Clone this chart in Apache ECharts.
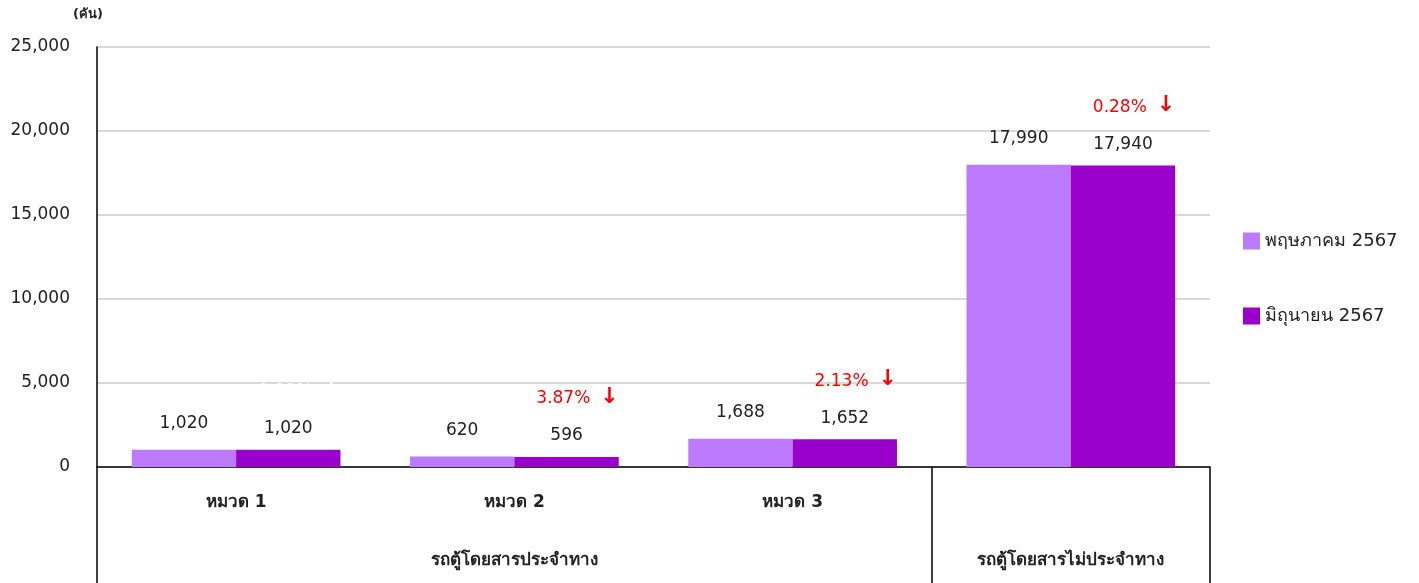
<!DOCTYPE html>
<html>
<head>
<meta charset="utf-8">
<title>รถตู้โดยสาร</title>
<script src="https://cdn.jsdelivr.net/npm/echarts@6/dist/echarts.min.js"></script>
<style>
  html, body { margin: 0; padding: 0; background: #fff; }
  #chart { width: 1419px; height: 583px; }
</style>
</head>
<body>
<div id="chart"></div>
<script>
// ข้อมูลของกราฟ
var categories = ['หมวด 1', 'หมวด 2', 'หมวด 3', ''];
var groups = ['', 'รถตู้โดยสารประจำทาง', '', 'รถตู้โดยสารไม่ประจำทาง'];
var mayValues = [1020, 620, 1688, 17990];
var juneValues = [1020, 596, 1652, 17940];
var seriesNames = ['พฤษภาคม 2567', 'มิถุนายน 2567'];
var yTicks = [0, 5000, 10000, 15000, 20000, 25000];

var FONT = 'Tahoma, "DejaVu Sans", sans-serif';
var addCommas = echarts.format.addCommas;

var myChart = echarts.init(document.getElementById('chart'));

var option = {
  textStyle: { fontFamily: FONT },
  animation: false,
  grid: { left: 97, right: 209, top: 47, bottom: 116 },
  legend: {
    orient: 'vertical',
    left: 1238,
    top: 227,
    itemGap: 57,
    itemWidth: 17,
    itemHeight: 17,
    icon: 'rect',
    textStyle: { fontSize: 18, color: '#222', fontFamily: FONT },
    data: seriesNames
  },
  xAxis: [
    {
      type: 'category',
      data: categories,
      axisLine: { lineStyle: { color: '#000', width: 1.5 } },
      axisTick: {
        show: true,
        length: 118,
        lineStyle: { color: '#000', width: 1.5 },
        // เส้นแบ่งกลุ่ม: ขอบซ้าย, ระหว่างหมวด 3 กับกลุ่มไม่ประจำทาง, ขอบขวา
        interval: function (index) { return index === 0 || index === 3; }
      },
      axisLabel: { margin: 27, fontSize: 17, fontWeight: 'bold', color: '#222', fontFamily: FONT }
    },
    {
      type: 'category',
      data: groups,
      position: 'bottom',
      axisLine: { show: false },
      axisTick: { show: false },
      axisLabel: { margin: 85, fontSize: 17, fontWeight: 'bold', color: '#222', fontFamily: FONT, interval: 0 }
    }
  ],
  yAxis: {
    type: 'value',
    min: yTicks[0],
    max: yTicks[yTicks.length - 1],
    interval: yTicks[1] - yTicks[0],
    name: '(คัน)',
    nameLocation: 'end',
    nameGap: 26,
    nameTextStyle: { fontSize: 13, fontWeight: 'bold', color: '#222', padding: [0, 18, 0, 0] },
    axisLine: { show: true, lineStyle: { color: '#000', width: 1.5 } },
    axisTick: { show: false },
    axisLabel: {
      margin: 27, fontSize: 17, color: '#222',
      formatter: function (v) { return addCommas(v); }
    },
    splitLine: { lineStyle: { color: '#d9d9d9', width: 2 } }
  },
  series: [
    {
      name: seriesNames[0],
      type: 'bar',
      data: mayValues,
      barGap: '0%',
      barCategoryGap: '25%',
      itemStyle: { color: '#bb7aff' },
      label: {
        show: true,
        position: 'top',
        distance: 18,
        fontSize: 17,
        color: '#222',
        formatter: function (p) { return addCommas(p.value); }
      }
    },
    {
      name: seriesNames[1],
      type: 'bar',
      data: juneValues,
      itemStyle: { color: '#9900cc' },
      label: {
        show: true,
        position: 'top',
        distance: 11,
        formatter: function (p) {
          var prev = mayValues[p.dataIndex];
          var pct = ((prev - p.value) / prev * 100).toFixed(2);
          // หมวด 1 ไม่เปลี่ยนแปลง ตัวอักษรเป็นสีขาว
          var s = p.dataIndex === 0 ? 'w' : '';
          return '{pct' + s + '|' + pct + '%}{arr' + s + '|↓}\n{val|' + addCommas(p.value) + '}';
        },
        rich: {
          pct: { fontSize: 17, color: '#ff0000', lineHeight: 54, padding: [0, 0, 0, 22] },
          pctw: { fontSize: 17, color: '#ffffff', lineHeight: 54, padding: [0, 0, 0, 22] },
          arr: { fontSize: 22, fontWeight: 'bold', color: '#ff0000', lineHeight: 54, padding: [0, 0, 4, 10] },
          arrw: { fontSize: 22, fontWeight: 'bold', color: '#ffffff', lineHeight: 54, padding: [0, 0, 4, 10] },
          val: { fontSize: 17, color: '#222', lineHeight: 20 }
        }
      }
    }
  ]
};

myChart.setOption(option);
</script>
</body>
</html>
